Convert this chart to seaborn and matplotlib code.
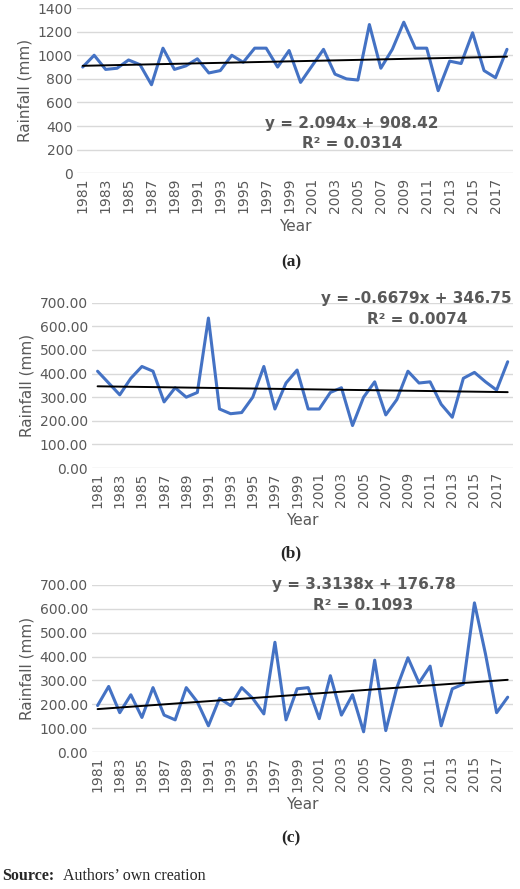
import numpy as np
import matplotlib
matplotlib.use("Agg")
import matplotlib.pyplot as plt
import seaborn as sns

sns.set_style("white")
plt.rcParams['font.family'] = ['DejaVu Sans']

years = list(range(1981, 2019))
rain_a = [900, 1000, 880, 890, 960, 920, 750, 1060, 880, 910, 970, 850, 870, 1000, 940, 1060, 1060, 900, 1040,
          770, 910, 1050, 840, 800, 790, 1260, 890, 1050, 1280, 1060, 1060, 700, 950, 930, 1190, 870, 810, 1050]
rain_b = [410, 360, 310, 380, 430, 410, 280, 340, 300, 320, 635, 250, 230, 235, 300, 430, 250, 360, 415,
          250, 250, 320, 340, 180, 300, 365, 225, 290, 410, 360, 365, 270, 215, 380, 405, 365, 330, 450]
rain_c = [195, 275, 165, 240, 145, 270, 155, 135, 270, 210, 110, 225, 195, 270, 225, 160, 460, 135, 265,
          270, 140, 320, 155, 240, 85, 385, 90, 270, 395, 290, 360, 110, 265, 285, 625, 410, 165, 230]
slopes = [2.094, -0.6679, 3.3138]
intercepts = [908.42, 346.75, 176.78]
r2 = ["0.0314", "0.0074", "0.1093"]
panel_tags = ["(a)", "(b)", "(c)"]

fig = plt.figure(figsize=(5.2, 8.89), dpi=100)
rects = [[0.148, 0.805, 0.838, 0.186], [0.177, 0.4735, 0.81, 0.186], [0.177, 0.154, 0.81, 0.188]]
ymax = [1400, 700, 700]
ystep = [200, 100, 100]
yfmt = ["{:.0f}", "{:.2f}", "{:.2f}"]
eq_pos = [(24.5, 424, 255), (29.8, 718, 630), (25.0, 700, 612)]
tag_y = [262, 553, 838]

for i, rain in enumerate([rain_a, rain_b, rain_c]):
    ax = fig.add_axes(rects[i])
    idx = np.arange(1, len(years) + 1)
    sns.lineplot(x=idx, y=rain, ax=ax, color="#4472c4", linewidth=2.2)
    trend = slopes[i] * idx + intercepts[i]
    ax.plot(idx, trend, color="black", linewidth=1.4)
    ax.set_xlim(0.5, len(years) + 0.5)
    ax.set_ylim(0, ymax[i])
    yt = np.arange(0, ymax[i] + 1, ystep[i])
    ax.set_yticks(yt)
    ax.set_yticklabels([yfmt[i].format(v) for v in yt], fontsize=10, color="#595959")
    ax.set_xticks(idx[::2])
    ax.set_xticklabels([str(y) for y in years[::2]], rotation=90, fontsize=10, color="#595959")
    ax.grid(axis="y", color="#d9d9d9", linewidth=1)
    ax.tick_params(length=0, pad=3)
    for s in ax.spines.values():
        s.set_visible(False)
    ax.set_ylabel("Rainfall (mm)", fontsize=11, color="#595959")
    ax.set_xlabel("Year", fontsize=11, color="#595959")
    ax.text(eq_pos[i][0], eq_pos[i][1], f"y = {slopes[i]}x + {intercepts[i]}", ha="center", va="center",
            fontsize=11, fontweight="bold", color="#595959", clip_on=False)
    ax.text(eq_pos[i][0], eq_pos[i][2], f"R² = {r2[i]}", ha="center", va="center",
            fontsize=11, fontweight="bold", color="#595959", clip_on=False)
    fig.text(0.56, 1 - tag_y[i] / 889, panel_tags[i], ha="center", va="center", fontsize=12.5,
             fontweight="bold", family="Liberation Serif")

fig.text(0.005, 1 - 876 / 889, "Source:", ha="left", va="center", fontsize=11.5, fontweight="bold",
         family="Liberation Serif")
fig.text(0.122, 1 - 876 / 889, "Authors’ own creation", ha="left", va="center", fontsize=11.5,
         family="Liberation Serif")

fig.savefig("out.png", dpi=100)
